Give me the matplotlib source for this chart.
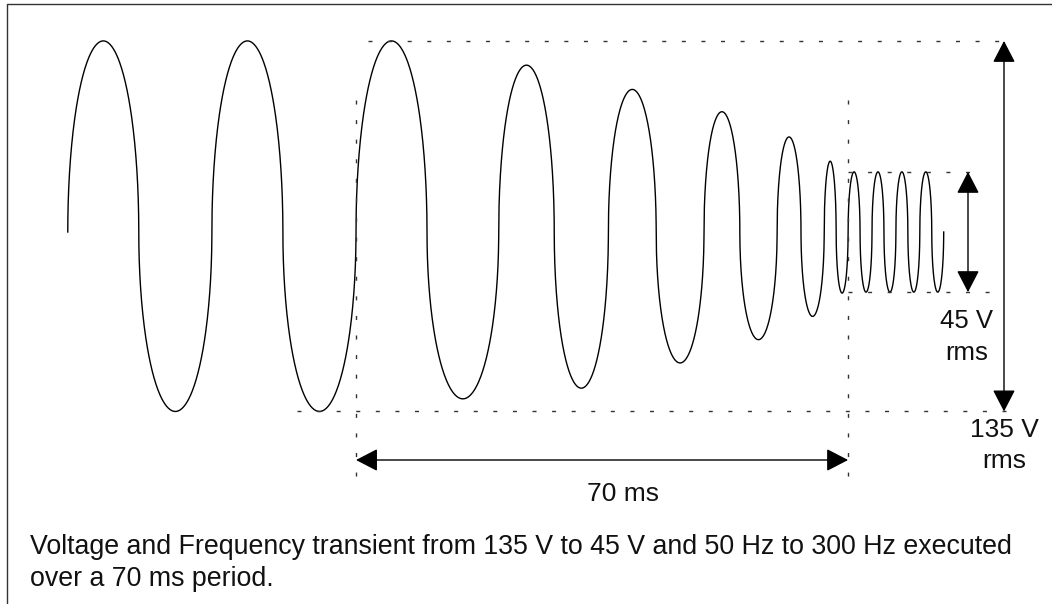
import numpy as np
import matplotlib
matplotlib.use("Agg")
import matplotlib.pyplot as plt
from matplotlib.lines import Line2D

plt.rcParams['font.family'] = ['Liberation Sans', 'DejaVu Sans']

# zero crossings of the wave (ms, 0 = start of the 70 ms transient)
zero_ms = [-41.0, -30.9, -20.5, -10.4, 0.0, 10.1, 20.3, 28.2, 35.9, 42.7,
           49.5, 54.6, 59.9, 63.3, 66.6, 68.3, 70.0, 71.7, 73.4, 75.1,
           76.8, 78.5, 80.2, 81.9, 83.6]
# peak of each half cycle (instantaneous V)
peak_v = [197, -185, 197, -185, 197, -172, 172, -161, 147, -135,
          124, -111, 98, -87, 73, -63, 62, -62, 62, -62,
          62, -62, 62, -62]

transient_ms = [0.0, 70.0]
caption = ("Voltage and Frequency transient from 135 V to 45 V and 50 Hz to 300 Hz executed\n"
           "over a 70 ms period.")

W, H = 1052, 604
X0_PX, PX_PER_MS = 356, 7.03
Y0_PX, PX_PER_V = 232, 0.97
SHAPE = 2.0  # arcs are rounder than a pure sine in the original drawing

fig = plt.figure(figsize=(W / 100, H / 100), dpi=100)
ax = fig.add_axes([0, 0, 1, 1])
ax.set_xlim(-X0_PX / PX_PER_MS, (W - X0_PX) / PX_PER_MS)
ax.set_ylim(-(H - Y0_PX) / PX_PER_V, Y0_PX / PX_PER_V)
ax.axis('off')


def ms(px):
    return (px - X0_PX) / PX_PER_MS


def volt(py):
    return (Y0_PX - py) / PX_PER_V


# waveform, one half cycle at a time
phi = np.linspace(0, np.pi, 200)
c = np.cos(phi)
u = (1 - np.sign(c) * np.abs(c) ** (2 / SHAPE)) / 2
s = np.abs(np.sin(phi)) ** (2 / SHAPE)
tt, vv = [], []
for t0, t1, pk in zip(zero_ms[:-1], zero_ms[1:], peak_v):
    tt.append(t0 + (t1 - t0) * u)
    vv.append(pk * s)
ax.plot(np.concatenate(tt), np.concatenate(vv), color='black', lw=1.0)

# dashed guide lines
dash = dict(color='#333333', lw=1.0, linestyle=(0, (2.9, 11.2)))
v_hi, v_lo = max(peak_v), min(peak_v)
v45_hi, v45_lo = peak_v[-2], peak_v[-1]
ax.plot([ms(368), ms(1013)], [v_hi, v_hi], **dash)
ax.plot([ms(297), ms(1015)], [v_lo, v_lo], **dash)
ax.plot([transient_ms[1], ms(982)], [v45_hi, v45_hi], **dash)
ax.plot([transient_ms[1], ms(990)], [v45_lo, v45_lo], **dash)
for t in transient_ms:
    ax.plot([t, t], [volt(100), volt(476)], **dash)

arrow = dict(arrowstyle='<|-|>,head_length=1.35,head_width=0.7', color='black',
             lw=1.0, mutation_scale=10, shrinkA=0, shrinkB=0)
ax.annotate('', xy=(transient_ms[0], volt(460)), xytext=(transient_ms[1], volt(460)),
            arrowprops=arrow)
ax.annotate('', xy=(ms(1004), v_hi), xytext=(ms(1004), v_lo), arrowprops=arrow)
ax.annotate('', xy=(ms(968), v45_hi), xytext=(ms(968), v45_lo), arrowprops=arrow)


def label(x, y, s, ha='center', size=19):
    fig.text(x / W, 1 - y / H, s, ha=ha, va='baseline', fontsize=size, color='#111111')


label(967, 328, '45 V', size=18.5)
label(967, 360, 'rms', size=18.5)
label(1004, 437, '135 V')
label(1004, 468, 'rms')
label(623, 501, '70 ms')
lines = caption.split('\n')
label(30, 554, lines[0], ha='left', size=19.3)
label(30, 586, lines[1], ha='left', size=19.3)

# frame (open at right and bottom)
fig.add_artist(Line2D([7 / W, 7 / W, 1], [0, 1 - 4 / H, 1 - 4 / H],
                      transform=fig.transFigure, color='#333333', lw=1.0))

fig.savefig('out.png', dpi=100)
